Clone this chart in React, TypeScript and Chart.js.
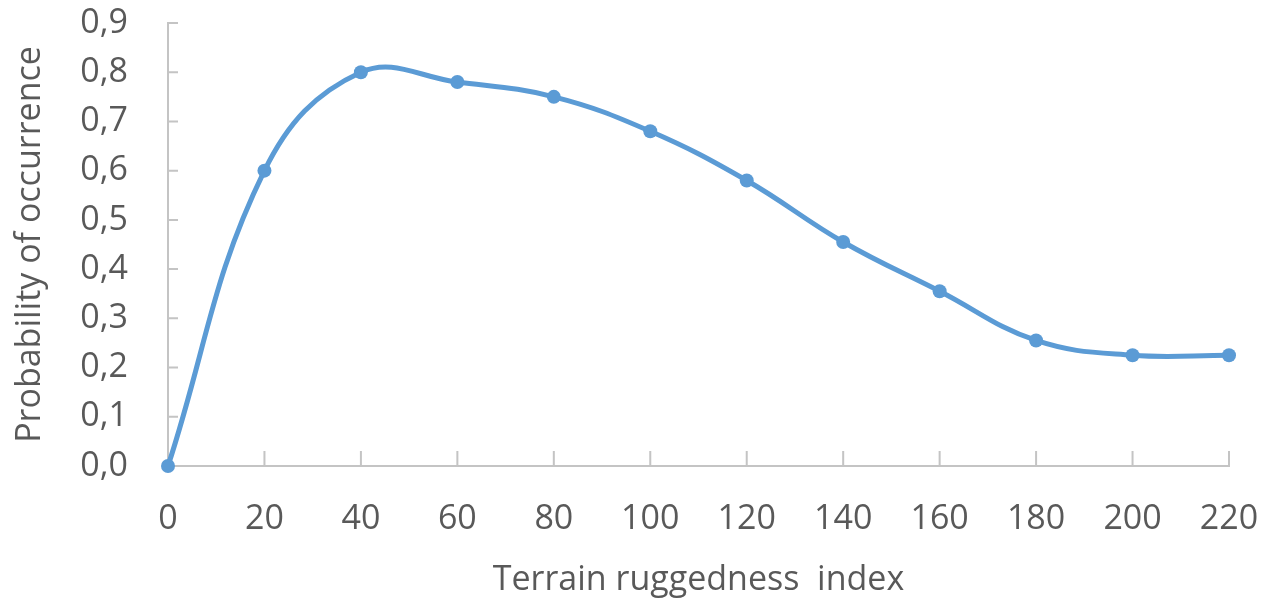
import React, { useEffect, useRef } from "react";
import { Chart, registerables } from "chart.js";

Chart.register(...registerables);

const ruggedness = [0, 20, 40, 60, 80, 100, 120, 140, 160, 180, 200, 220];
const probability = [0.0, 0.6, 0.8, 0.78, 0.75, 0.68, 0.58, 0.455, 0.355, 0.255, 0.225, 0.225];
const xTitle = "Terrain ruggedness  index";
const yTitle = "Probability of occurrence";

const AXIS_COLOR = "#C4C4C4";
const TEXT_COLOR = "#595959";
const LINE_COLOR = "#5B9BD5";
const FONT = "'Open Sans', 'DejaVu Sans', sans-serif";

const innerTicks = {
  id: "innerTicks",
  beforeDatasetsDraw(chart: any) {
    const ctx = chart.ctx;
    const xs = chart.scales.x;
    const ys = chart.scales.y;
    ctx.save();
    ctx.strokeStyle = AXIS_COLOR;
    ctx.lineWidth = 2;
    ctx.beginPath();
    xs.ticks.forEach((t: any) => {
      const px = xs.getPixelForValue(t.value);
      ctx.moveTo(px, ys.bottom);
      ctx.lineTo(px, ys.bottom - 15);
    });
    ys.ticks.forEach((t: any) => {
      const py = ys.getPixelForValue(t.value);
      ctx.moveTo(xs.left, py);
      ctx.lineTo(xs.left + 10, py);
    });
    ctx.stroke();
    ctx.restore();
  },
};

export default function App() {
  const ref = useRef<HTMLCanvasElement>(null);
  useEffect(() => {
    document.body.style.margin = "0";
    const chart = new Chart(ref.current!, {
      type: "line",
      data: {
        datasets: [
          {
            data: ruggedness.map((x, i) => ({ x, y: probability[i] })),
            borderColor: LINE_COLOR,
            backgroundColor: LINE_COLOR,
            borderWidth: 5,
            pointRadius: 7,
            pointBorderWidth: 0,
            tension: 0.4,
            clip: false as any,
          },
        ],
      },
      options: {
        animation: false,
        responsive: false,
        layout: { padding: { top: 23, right: 43, bottom: 2, left: 10 } },
        plugins: { legend: { display: false }, tooltip: { enabled: false } },
        scales: {
          x: {
            type: "linear",
            min: 0,
            max: 220,
            ticks: {
              stepSize: 20,
              color: TEXT_COLOR,
              font: { family: FONT, size: 34 },
              padding: 33,
              maxRotation: 0,
            },
            grid: { display: true, drawOnChartArea: false, drawTicks: false, color: AXIS_COLOR },
            border: { display: true, color: AXIS_COLOR, width: 2 },
            title: {
              display: true,
              text: xTitle,
              color: TEXT_COLOR,
              font: { family: FONT, size: 34 },
              padding: { top: 0, bottom: 0 },
            },
            afterFit: (s: any) => {
              s.height = 135;
              s.paddingLeft = 0;
              s.paddingRight = 0;
            },
          },
          y: {
            min: 0,
            max: 0.9,
            ticks: {
              stepSize: 0.1,
              color: TEXT_COLOR,
              font: { family: FONT, size: 34 },
              padding: 40,
              callback: (v: any) => Number(v).toFixed(1).replace(".", ","),
            },
            grid: { display: true, drawOnChartArea: false, drawTicks: false, color: AXIS_COLOR },
            border: { display: true, color: AXIS_COLOR, width: 2 },
            title: {
              display: true,
              text: yTitle,
              color: TEXT_COLOR,
              font: { family: FONT, size: 34 },
              padding: { top: 0, bottom: 0 },
            },
            afterFit: (s: any) => {
              s.width = 158;
              s.paddingTop = 0;
              s.paddingBottom = 0;
            },
          },
        },
      },
      plugins: [innerTicks],
    });
    return () => chart.destroy();
  }, []);
  return <canvas ref={ref} width={1272} height={603} style={{ display: "block" }} />;
}
